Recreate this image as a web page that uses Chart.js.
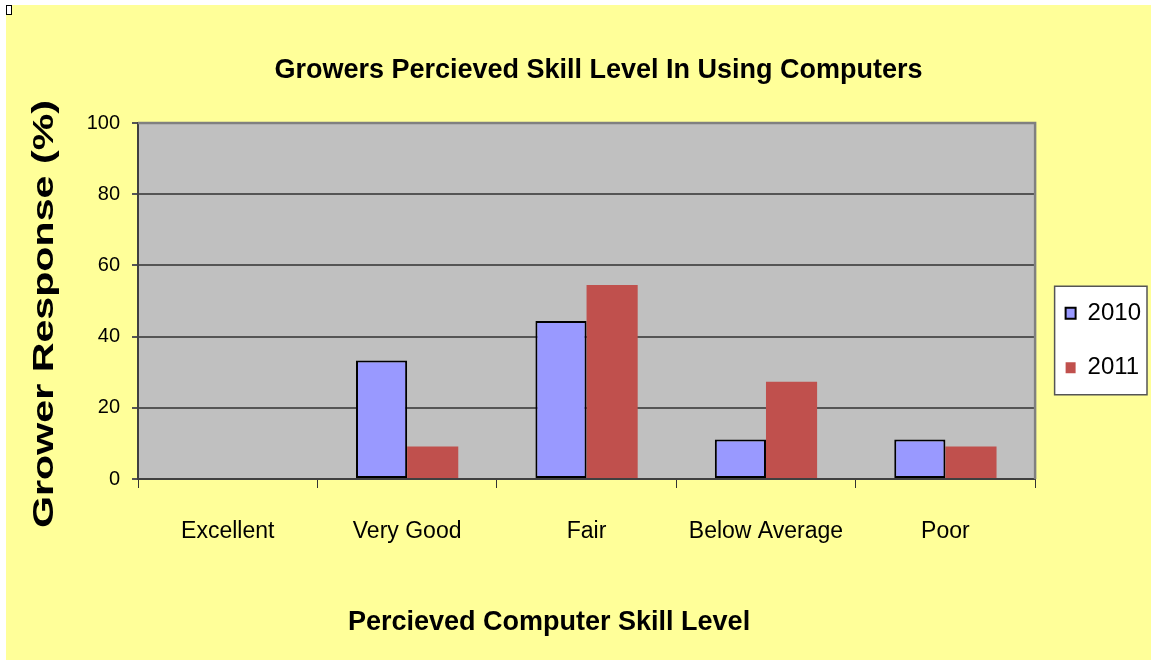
<!DOCTYPE html>
<html>
<head>
<meta charset="utf-8">
<script src="https://cdn.jsdelivr.net/npm/chart.js@4.4.0/dist/chart.umd.min.js"></script>
<style>
  html, body { margin: 0; padding: 0; background: #fff; }
  #wrap { position: absolute; left: 6px; top: 5px; width: 1145px; height: 655px; background: #ffff99; }
  #mark { position: absolute; left: 6px; top: 5px; width: 4px; height: 8px; border: 1px solid #000; background: #fff; }
</style>
</head>
<body>
<div id="wrap"><canvas id="myChart" width="1145" height="655"></canvas></div>
<div id="mark"></div>
<script>
const categories = ["Excellent", "Very Good", "Fair", "Below Average", "Poor"];
const values2010 = [0, 33.3, 44.4, 11.1, 11.1];
const values2011 = [0, 9.1, 54.5, 27.3, 9.1];
const seriesNames = ["2010", "2011"];
const chartTitle = "Growers Percieved Skill Level In Using Computers";
const xTitle = "Percieved Computer Skill Level";
const yTitle = "Grower Response (%)";

const arial = '"Liberation Sans", Arial, sans-serif';

// grey plot area + white legend frame behind everything
const plotBackground = {
    id: "plotBackground",
    beforeDraw(chart) {
        const { ctx, chartArea: a } = chart;
        ctx.save();
        ctx.fillStyle = "#c0c0c0";
        ctx.fillRect(a.left, a.top, a.right - a.left, a.bottom - a.top);

        const boxes = chart.legend.legendHitBoxes;
        if (boxes && boxes.length) {
            const first = boxes[0];
            const last = boxes[boxes.length - 1];
            const x = first.left - 11;
            const y = first.top - 15;
            const w = chart.width - 4 - x;
            const h = last.top + last.height + 15 - y;
            ctx.fillStyle = "#ffffff";
            ctx.fillRect(x, y, w, h);
            ctx.strokeStyle = "#555555";
            ctx.lineWidth = 1.5;
            ctx.strokeRect(x, y, w, h);
        }
        ctx.restore();
    },
    afterDraw(chart) {
        const { ctx, chartArea: a } = chart;
        ctx.save();
        ctx.strokeStyle = "#808080";
        ctx.lineWidth = 2.5;
        ctx.beginPath();
        ctx.moveTo(a.left, a.top);
        ctx.lineTo(a.right, a.top);
        ctx.lineTo(a.right, a.bottom);
        ctx.stroke();
        ctx.restore();
    }
};

// the vertical axis title is stretched along its length in the original
const yTitlePlugin = {
    id: "yTitlePlugin",
    afterDraw(chart) {
        const ctx = chart.ctx;
        ctx.save();
        ctx.font = 'bold 30px "Liberation Sans", Arial, sans-serif';
        ctx.fillStyle = "#000";
        ctx.textAlign = "center";
        ctx.textBaseline = "alphabetic";
        const w = ctx.measureText(yTitle).width;
        ctx.translate(47, 309);
        ctx.rotate(-Math.PI / 2);
        ctx.scale(428 / w, 1);
        ctx.fillText(yTitle, 0, 0);
        ctx.restore();
    }
};

const ctx = document.getElementById("myChart").getContext("2d");
new Chart(ctx, {
    type: "bar",
    data: {
        labels: categories,
        datasets: [
            {
                label: seriesNames[0],
                data: values2010,
                backgroundColor: "#9999ff",
                borderColor: "#000000",
                borderWidth: 2,
                borderSkipped: false
            },
            {
                label: seriesNames[1],
                data: values2011,
                backgroundColor: "#c0504d",
                borderWidth: 0
            }
        ]
    },
    options: {
        responsive: false,
        animation: false,
        devicePixelRatio: 1,
        categoryPercentage: 0.57,
        barPercentage: 1.0,
        layout: { padding: { left: 40, right: 0, top: 0, bottom: 0 } },
        plugins: {
            title: {
                display: true,
                text: chartTitle,
                color: "#000",
                font: { family: arial, size: 27, weight: "bold" },
                padding: { top: 49.4, bottom: 36.2 }
            },
            legend: {
                position: "right",
                title: { display: true, text: "", font: { size: 10 }, padding: { top: 4, bottom: 0 } },
                labels: {
                    color: "#000",
                    font: { family: arial, size: 24 },
                    boxWidth: 10,
                    boxHeight: 11,
                    padding: 30.5
                }
            },
            tooltip: { enabled: false }
        },
        scales: {
            x: {
                grid: {
                    display: true,
                    drawOnChartArea: false,
                    drawTicks: true,
                    tickLength: 9,
                    offset: true,
                    color: "#333333",
                    lineWidth: 1
                },
                border: { display: true, color: "#404040", width: 2 },
                ticks: {
                    color: "#000",
                    font: { family: arial, size: 23 },
                    padding: 29.7,
                    maxRotation: 0,
                    autoSkip: false
                },
                title: {
                    display: true,
                    // trailing spaces pull the centred title left, as in the original
                    text: xTitle + "          ",
                    color: "#000",
                    font: { family: arial, size: 27, weight: "bold" },
                    padding: { top: 0, bottom: 21.2 }
                },
                afterFit: scale => { scale.height = 181; }
            },
            y: {
                min: 0,
                max: 100,
                ticks: {
                    stepSize: 20,
                    color: "#000",
                    font: { family: arial, size: 20 },
                    padding: 12
                },
                grid: {
                    color: "#555555",
                    lineWidth: 2,
                    tickLength: 6,
                    drawTicks: true
                },
                border: { display: true, color: "#404040", width: 2 },
                afterFit: scale => { scale.width = 92; }
            }
        }
    },
    plugins: [plotBackground, yTitlePlugin]
});
</script>
</body>
</html>
